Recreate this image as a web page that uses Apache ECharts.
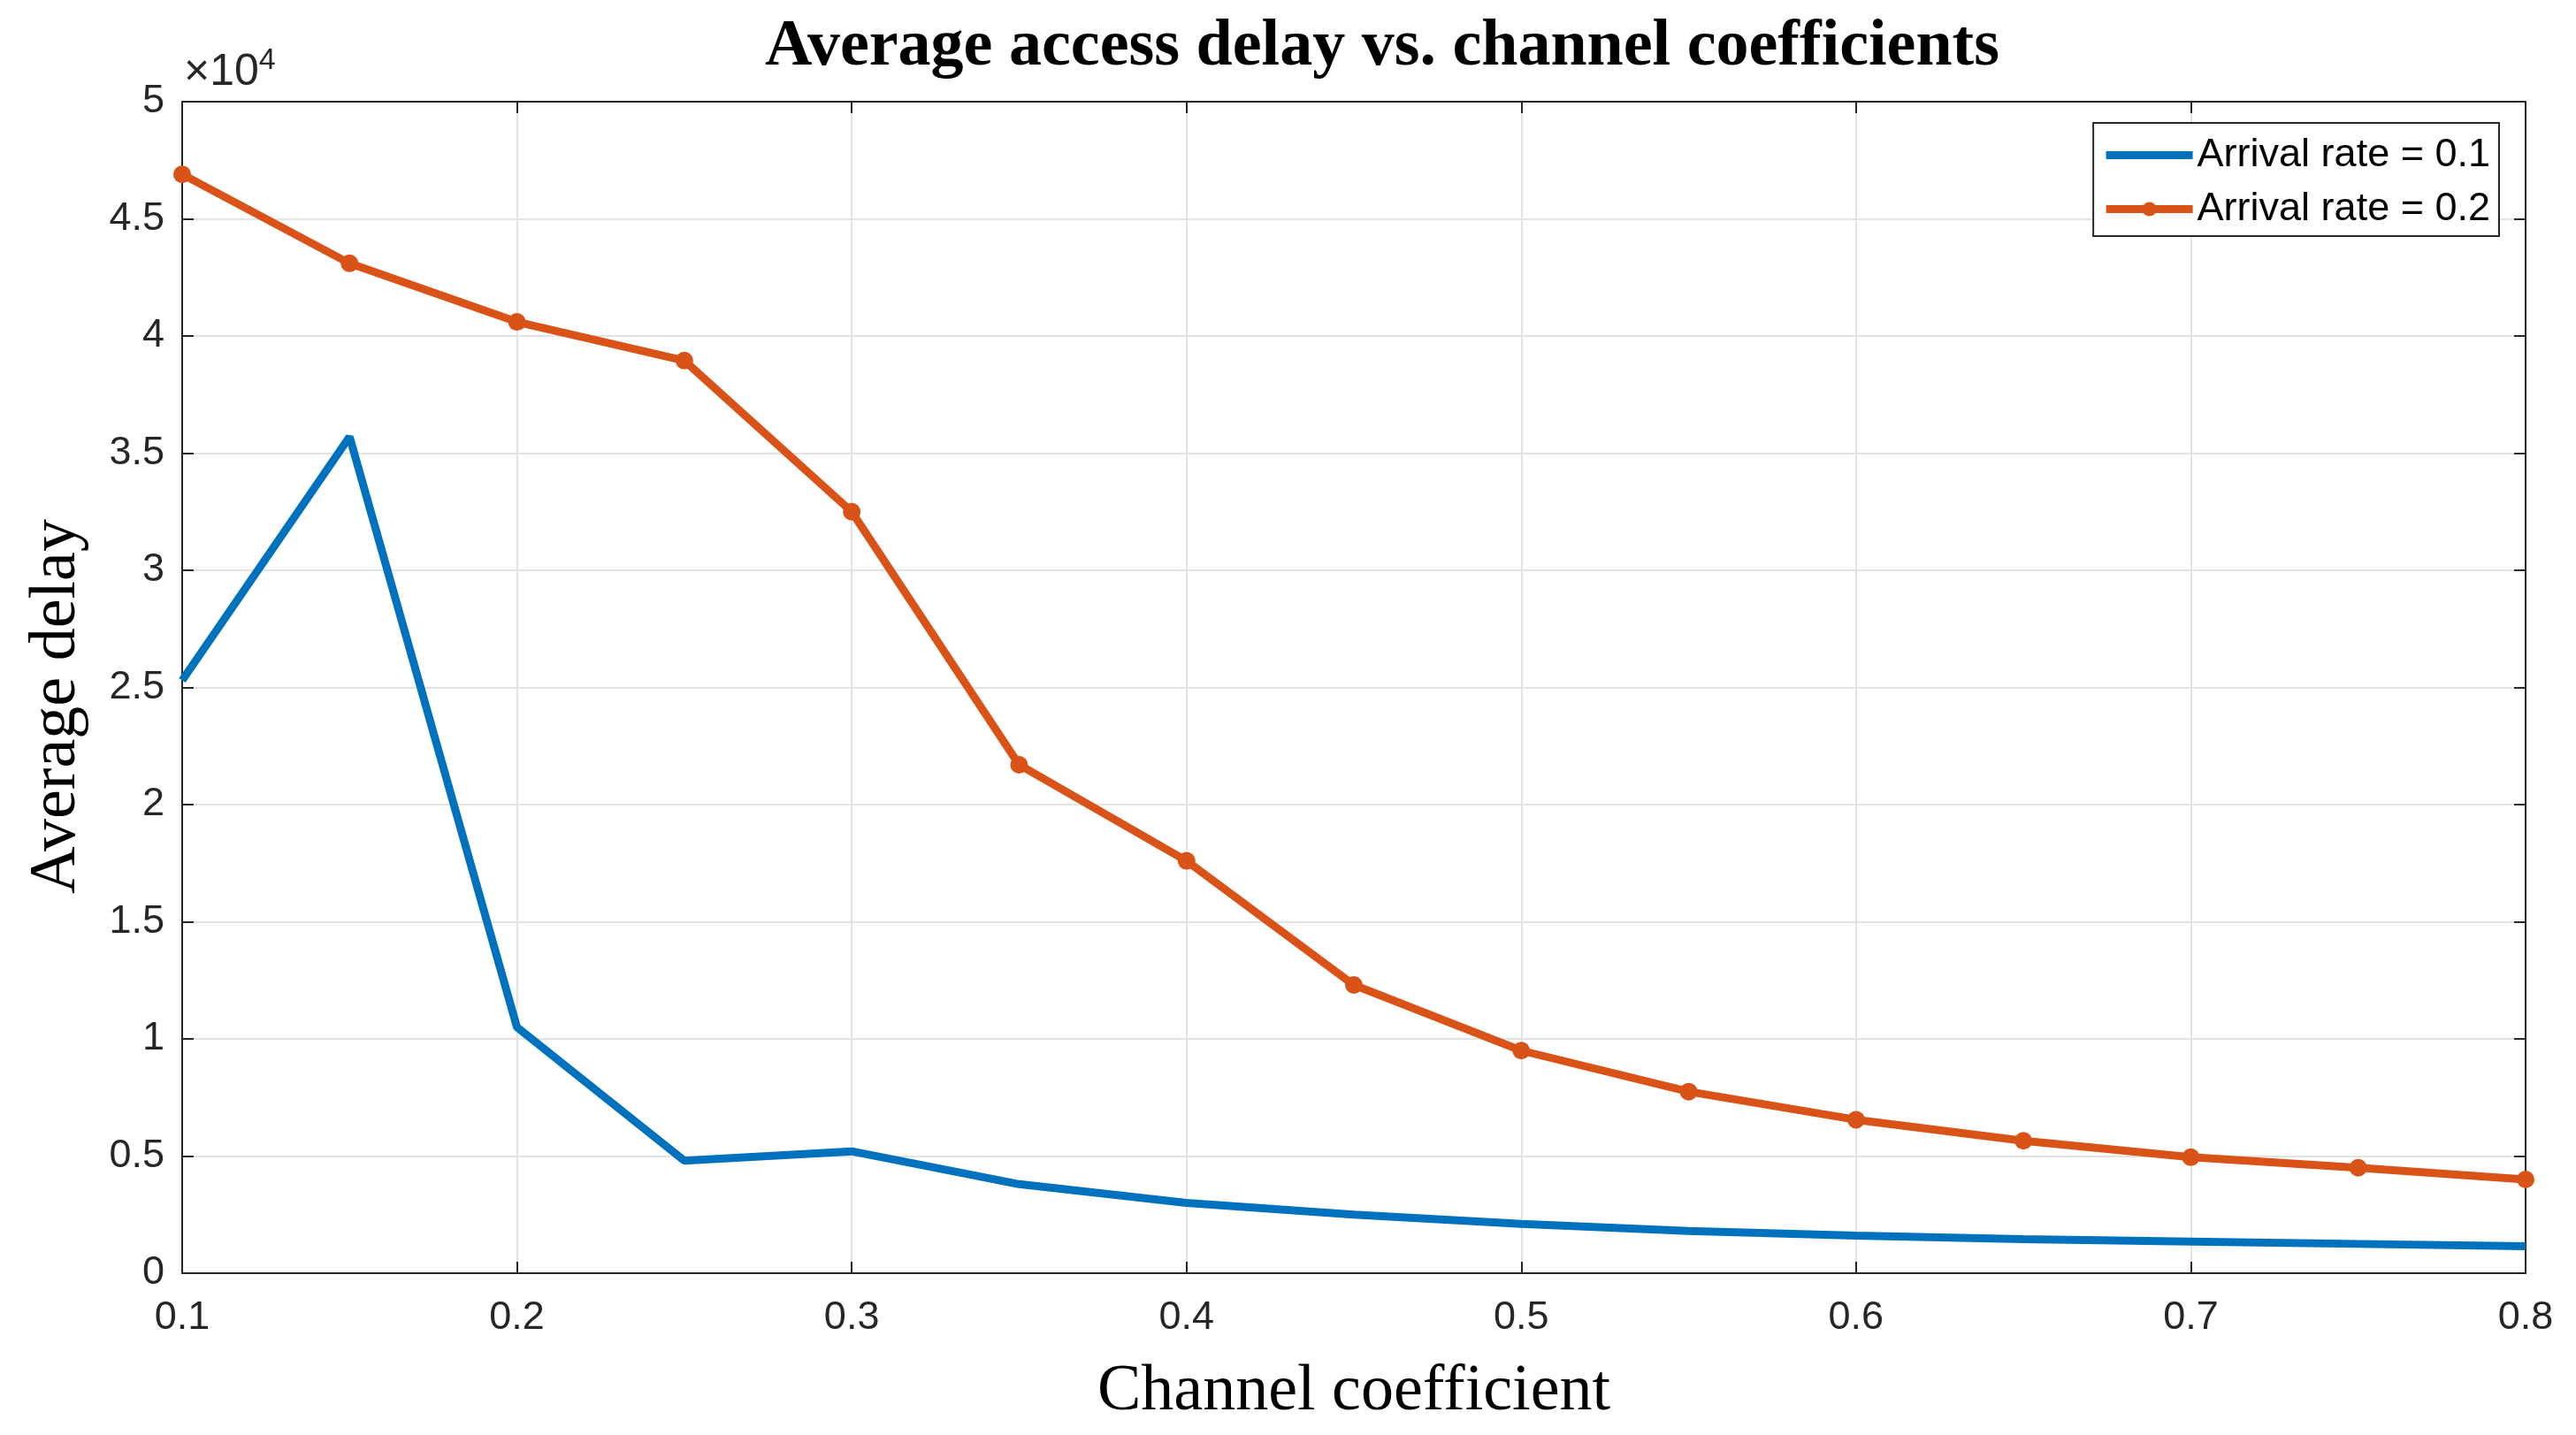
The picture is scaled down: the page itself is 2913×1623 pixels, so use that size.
<!DOCTYPE html>
<html>
<head>
<meta charset="utf-8">
<script src="https://cdn.jsdelivr.net/npm/echarts@6/dist/echarts.min.js"></script>
<style>
  html, body { margin: 0; padding: 0; background: #fff; }
  #chart { width: 2913px; height: 1623px; }
</style>
</head>
<body>
<div id="chart"></div>
<script>
// channel coefficient (x)
const channelCoef = [0.1, 0.15, 0.2, 0.25, 0.3, 0.35, 0.4, 0.45, 0.5, 0.55, 0.6, 0.65, 0.7, 0.75, 0.8]
// average delay, arrival rate 0.1
const delayRate01 = [25300, 35700, 10500, 4800, 5200, 3800, 3000, 2500, 2100, 1800, 1600, 1450, 1350, 1250, 1150]
// average delay, arrival rate 0.2
const delayRate02 = [46900, 43100, 40600, 38950, 32500, 21700, 17600, 12300, 9500, 7750, 6550, 5650, 4950, 4500, 4000]
const seriesNames = ['Arrival rate = 0.1', 'Arrival rate = 0.2']

const chart = echarts.init(document.getElementById('chart'))

const tickFont = { fontFamily: 'Liberation Sans', fontSize: 45, color: '#262626' }
const axisColor = '#262626'

chart.setOption({
  animation: false,
  backgroundColor: '#fff',
  title: {
    text: 'Average access delay vs. channel coefficients',
    left: 1558,
    top: 12,
    textAlign: 'center',
    textStyle: { fontFamily: 'Liberation Serif', fontWeight: 'bold', fontSize: 74, color: '#000' }
  },
  grid: { left: 206, right: 57, top: 115, bottom: 183 },
  legend: {
    orient: 'vertical',
    right: 87,
    top: 139,
    padding: [14, 10, 8, 10],
    itemGap: 16,
    itemWidth: 98,
    itemHeight: 20,
    borderColor: '#262626',
    borderWidth: 2,
    backgroundColor: '#fff',
    textStyle: { fontFamily: 'Liberation Sans', fontSize: 45, color: '#000', padding: [0, 0, 0, 0] },
    data: [
      { name: seriesNames[0], lineStyle: { width: 9 }, itemStyle: { color: 'rgba(0,0,0,0)' } },
      { name: seriesNames[1], lineStyle: { width: 9 } }
    ]
  },
  graphic: [{
    type: 'text',
    left: 208,
    top: 52,
    style: {
      text: '×10{sup|4}',
      rich: { sup: { fontSize: 34, verticalAlign: 'top', padding: [0, 0, 26, 0] } },
      fontFamily: 'Liberation Sans', fontSize: 50, fill: '#262626'
    }
  }, {
    type: 'text',
    x: 65,
    y: 799,
    rotation: Math.PI / 2,
    style: {
      text: 'Average delay',
      fontFamily: 'Liberation Serif', fontSize: 74, fill: '#000',
      align: 'center', verticalAlign: 'middle'
    }
  }],
  xAxis: [{
    type: 'value',
    min: 0.1,
    max: 0.8,
    interval: 0.1,
    name: 'Channel coefficient',
    nameLocation: 'middle',
    nameGap: 98,
    nameTextStyle: { fontFamily: 'Liberation Serif', fontSize: 74, color: '#000' },
    axisLine: { onZero: false, lineStyle: { color: axisColor, width: 2 } },
    axisTick: { inside: true, length: 13, lineStyle: { color: axisColor, width: 2 } },
    axisLabel: Object.assign({ margin: 28, formatter: v => v.toFixed(1) }, tickFont),
    splitLine: { show: true, lineStyle: { color: '#e3e3e3', width: 2 } }
  }, {
    type: 'value',
    position: 'top',
    min: 0.1,
    max: 0.8,
    interval: 0.1,
    axisLine: { onZero: false, lineStyle: { color: axisColor, width: 2 } },
    axisTick: { inside: true, length: 13, lineStyle: { color: axisColor, width: 2 } },
    axisLabel: { show: false },
    splitLine: { show: false }
  }],
  yAxis: [{
    type: 'value',
    min: 0,
    max: 50000,
    interval: 5000,
    axisLine: { show: true, onZero: false, lineStyle: { color: axisColor, width: 2 } },
    axisTick: { show: true, inside: true, length: 13, lineStyle: { color: axisColor, width: 2 } },
    axisLabel: Object.assign({ margin: 20, formatter: v => String(v / 10000) }, tickFont),
    splitLine: { show: true, lineStyle: { color: '#e3e3e3', width: 2 } }
  }, {
    type: 'value',
    position: 'right',
    min: 0,
    max: 50000,
    interval: 5000,
    axisLine: { show: true, onZero: false, lineStyle: { color: axisColor, width: 2 } },
    axisTick: { show: true, inside: true, length: 13, lineStyle: { color: axisColor, width: 2 } },
    axisLabel: { show: false },
    splitLine: { show: false }
  }],
  series: [{
    name: seriesNames[0],
    type: 'line',
    symbol: 'none',
    data: channelCoef.map((x, i) => [x, delayRate01[i]]),
    lineStyle: { color: '#0072BD', width: 9 },
    itemStyle: { color: '#0072BD' },
    z: 3
  }, {
    name: seriesNames[1],
    type: 'line',
    symbol: 'circle',
    symbolSize: 20,
    data: channelCoef.map((x, i) => [x, delayRate02[i]]),
    lineStyle: { color: '#D95319', width: 9 },
    itemStyle: { color: '#D95319' },
    z: 4
  }]
})
</script>
</body>
</html>
